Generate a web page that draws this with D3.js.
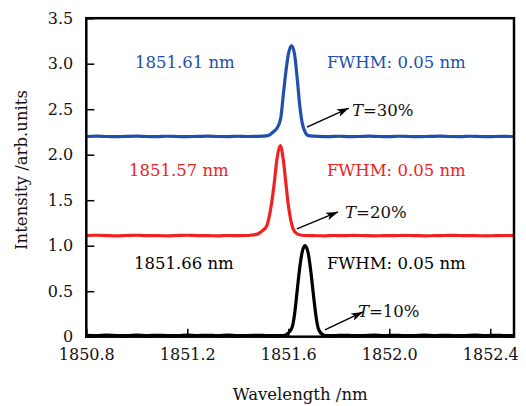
<!DOCTYPE html>
<html><head><meta charset="utf-8">
<script src="https://cdn.jsdelivr.net/npm/d3@7"></script>
<style>
html,body{margin:0;padding:0;background:#fff;}
svg{display:block;}
text{font-family:"DejaVu Serif",serif;}
</style></head>
<body>
<svg id="c" width="526" height="406"></svg>
<script>
// ---- data ----
const xTicks = [1850.8, 1851.2, 1851.6, 1852.0, 1852.4];
const xTickLabels = ["1850.8", "1851.2", "1851.6", "1852.0", "1852.4"];
const yTicks = [0, 0.5, 1.0, 1.5, 2.0, 2.5, 3.0, 3.5];
const yTickLabels = ["0", "0.5", "1.0", "1.5", "2.0", "2.5", "3.0", "3.5"];

// T = 30% (blue)
const blueWl = [1850.80,1850.84,1850.88,1850.92,1850.96,1851.00,1851.04,1851.08,1851.12,1851.16,1851.20,1851.24,1851.28,1851.32,1851.36,1851.40,1851.44,1851.48,
  1851.52,1851.54,1851.555,1851.57,1851.58,1851.59,1851.60,1851.613,1851.625,1851.635,1851.645,1851.655,1851.665,1851.68,
  1851.72,1851.76,1851.80,1851.84,1851.88,1851.92,1851.96,1852.00,1852.04,1852.08,1852.12,1852.16,1852.20,1852.24,1852.28,1852.32,1852.36,1852.40,1852.44,1852.48,1852.494];
const blueInt = [2.200,2.204,2.200,2.198,2.202,2.204,2.200,2.199,2.203,2.200,2.198,2.201,2.204,2.200,2.199,2.203,2.200,2.201,
  2.21,2.25,2.29,2.40,2.65,2.90,3.10,3.20,3.10,2.85,2.55,2.35,2.26,2.21,
  2.201,2.199,2.203,2.198,2.200,2.204,2.200,2.199,2.203,2.200,2.198,2.201,2.204,2.200,2.199,2.203,2.200,2.198,2.202,2.200,2.200];

// T = 20% (red)
const redWl = [1850.80,1850.84,1850.88,1850.92,1850.96,1851.00,1851.04,1851.08,1851.12,1851.16,1851.20,1851.24,1851.28,1851.32,1851.36,1851.40,1851.43,
  1851.45,1851.48,1851.50,1851.515,1851.53,1851.545,1851.555,1851.568,1851.58,1851.59,1851.60,1851.61,1851.62,1851.635,1851.66,
  1851.70,1851.74,1851.78,1851.82,1851.86,1851.90,1851.94,1851.98,1852.02,1852.06,1852.10,1852.14,1852.18,1852.22,1852.26,1852.30,1852.34,1852.38,1852.42,1852.46,1852.494];
const redInt = [1.112,1.115,1.111,1.108,1.112,1.115,1.110,1.111,1.108,1.112,1.115,1.111,1.110,1.108,1.112,1.111,1.112,
  1.115,1.13,1.17,1.22,1.40,1.70,1.95,2.10,1.95,1.70,1.45,1.28,1.18,1.13,1.112,
  1.110,1.108,1.112,1.110,1.114,1.111,1.108,1.111,1.110,1.114,1.111,1.108,1.110,1.112,1.114,1.110,1.111,1.108,1.110,1.112,1.111];

// T = 10% (black)
const blackWl = [1850.80,1850.84,1850.88,1850.92,1850.96,1851.00,1851.04,1851.08,1851.12,1851.16,1851.20,1851.24,1851.28,1851.32,1851.36,1851.40,1851.44,1851.48,1851.52,1851.55,
  1851.58,1851.60,1851.615,1851.625,1851.635,1851.645,1851.655,1851.666,1851.678,1851.69,1851.70,1851.71,1851.72,1851.735,1851.75,
  1851.78,1851.82,1851.86,1851.90,1851.94,1851.98,1852.02,1852.06,1852.10,1852.14,1852.18,1852.22,1852.26,1852.30,1852.34,1852.38,1852.42,1852.46,1852.494];
const blackInt = [0.016,0.012,0.017,0.013,0.012,0.017,0.012,0.016,0.013,0.012,0.017,0.013,0.016,0.012,0.017,0.012,0.013,0.016,0.012,0.012,
  0.012,0.04,0.10,0.25,0.50,0.75,0.93,1.00,0.93,0.70,0.45,0.22,0.08,0.025,0.013,
  0.012,0.016,0.012,0.013,0.017,0.012,0.016,0.012,0.013,0.017,0.012,0.016,0.012,0.013,0.017,0.012,0.016,0.012,0.012];

const seriesNames = ["T=30%", "T=20%", "T=10%"];
const seriesColors = ["#2150ac", "#ee2222", "#000000"];
const peakLabels = ["1851.61 nm", "1851.57 nm", "1851.66 nm"];
const fwhmLabels = ["FWHM: 0.05 nm", "FWHM: 0.05 nm", "FWHM: 0.05 nm"];
const tValues = ["30%", "20%", "10%"];
// annotation anchors in data units
const peakLabelPos = [[1850.993, 2.953], [1850.969, 1.766], [1850.989, 0.744]];
const fwhmLabelPos = [[1851.753, 2.953], [1851.753, 1.766], [1851.753, 0.744]];
const tLabelPos = [[1851.852, 2.425], [1851.825, 1.304], [1851.876, 0.216]];
const arrowFrom = [[1851.674, 2.303], [1851.634, 1.184], [1851.745, 0.074]];
const arrowTo = [[1851.840, 2.512], [1851.797, 1.371], [1851.896, 0.272]];

// ---- chart ----
const svg = d3.select("#c");
const L = 86.3, R = 514, T = 18.2, B = 336.7;
const x = d3.scaleLinear().domain([1850.8, 1852.494]).range([L, R]);
const y = d3.scaleLinear().domain([0, 3.5]).range([B, T]);

const defs = svg.append("defs");
defs.append("marker").attr("id", "ah").attr("viewBox", "0 0 12 8")
  .attr("refX", 12).attr("refY", 4).attr("markerWidth", 12).attr("markerHeight", 8)
  .attr("markerUnits", "userSpaceOnUse").attr("orient", "auto")
  .append("path").attr("d", "M0,0 L12,4 L0,8 L3,4 z").attr("fill", "#000");

const series = [
  {wl: blueWl, v: blueInt},
  {wl: redWl, v: redInt},
  {wl: blackWl, v: blackInt}
];
const line = d3.line().x(d => x(d[0])).y(d => y(d[1])).curve(d3.curveMonotoneX);
const plot = svg.append("g");
series.forEach((s, i) => {
  const pts = s.wl.map((w, j) => [w, s.v[j]]);
  plot.append("path").attr("d", line(pts)).attr("fill", "none")
    .attr("stroke", seriesColors[i]).attr("stroke-width", 3.2).attr("stroke-linejoin", "round");
});

// axes (ticks inward)
const xAxis = d3.axisBottom(x).tickValues(xTicks).tickFormat((d, i) => xTickLabels[i]).tickSizeInner(-8).tickSizeOuter(0).tickPadding(12);
const yAxis = d3.axisLeft(y).tickValues(yTicks).tickFormat((d, i) => yTickLabels[i]).tickSizeInner(-8).tickSizeOuter(0).tickPadding(13);
const gx = svg.append("g").attr("transform", `translate(0,${B})`).call(xAxis);
const gy = svg.append("g").attr("transform", `translate(${L},0)`).call(yAxis);
[gx, gy].forEach(g => {
  g.select(".domain").remove();
  g.selectAll(".tick line").attr("stroke", "#000").attr("stroke-width", 1.5);
  g.selectAll(".tick text").attr("font-family", "DejaVu Serif").attr("font-size", 16).attr("fill", "#111");
});
gx.selectAll(".tick text").attr("dy", "0.71em");

// frame
svg.append("rect").attr("x", L).attr("y", T).attr("width", R - L).attr("height", B - T)
  .attr("fill", "none").attr("stroke", "#000").attr("stroke-width", 2.5);

// annotations
const ann = svg.append("g").attr("font-family", "DejaVu Serif").attr("font-size", 16.5);
for (let i = 0; i < 3; i++) {
  ann.append("text").attr("x", x(peakLabelPos[i][0])).attr("y", y(peakLabelPos[i][1]))
    .attr("fill", seriesColors[i]).text(peakLabels[i]);
  ann.append("text").attr("x", x(fwhmLabelPos[i][0])).attr("y", y(fwhmLabelPos[i][1]))
    .attr("fill", seriesColors[i]).text(fwhmLabels[i]);
  const t = ann.append("text").attr("x", x(tLabelPos[i][0])).attr("y", y(tLabelPos[i][1])).attr("fill", "#111");
  t.append("tspan").attr("font-style", "italic").text("T");
  t.append("tspan").text("=" + tValues[i]);
  ann.append("line").attr("x1", x(arrowFrom[i][0])).attr("y1", y(arrowFrom[i][1]))
    .attr("x2", x(arrowTo[i][0])).attr("y2", y(arrowTo[i][1]))
    .attr("stroke", "#000").attr("stroke-width", 1.4).attr("marker-end", "url(#ah)");
}

// axis titles
svg.append("text").attr("x", (L + R) / 2).attr("y", 400).attr("text-anchor", "middle")
  .attr("font-size", 16.5).attr("fill", "#111").text("Wavelength /nm");
svg.append("text").attr("transform", `translate(27,170) rotate(-90)`).attr("text-anchor", "middle")
  .attr("font-size", 16.5).attr("fill", "#111").text("Intensity /arb.units");
</script>
</body></html>
